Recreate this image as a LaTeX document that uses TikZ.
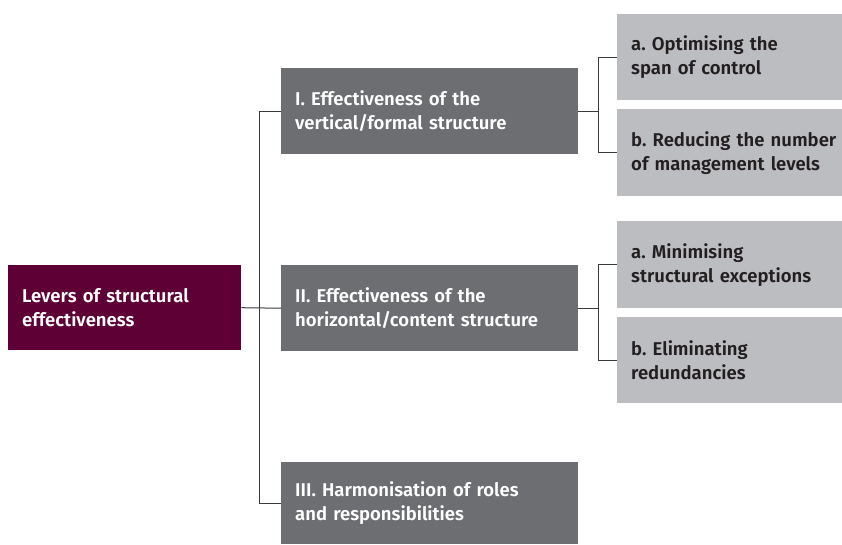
\documentclass[tikz,border=0pt]{standalone}
\usepackage{fontspec}
\setmainfont{Fira Sans}[BoldFont={Fira Sans SemiBold}]
\usetikzlibrary{calc}
\definecolor{plum}{HTML}{5E0035}
\definecolor{slate}{HTML}{6D6E71}
\definecolor{mist}{HTML}{BCBDC0}
\definecolor{ink}{HTML}{231F20}
\definecolor{wire}{HTML}{3A3A3A}
\tikzset{
  block/.style={anchor=north west, rectangle, inner xsep=14pt, inner ysep=0pt,
    align=left, font=\fontsize{18.5}{24}\selectfont\bfseries\frenchspacing},
  rootbox/.style={block, fill=plum, text=white, minimum width=233pt, minimum height=85pt, text width=205pt},
  levbox/.style={block, fill=slate, text=white, minimum width=297pt, minimum height=86pt, text width=269pt},
  subbox/.style={block, fill=mist, text=ink, minimum width=225pt, minimum height=86pt, text width=215pt},
  link/.style={draw=wire, line width=1pt}
}
\begin{document}
\begin{tikzpicture}[x=1pt,y=-1pt]
\useasboundingbox (0,0) rectangle (842,544);

% root and main levers
\node[rootbox] (root) at (8,265) {Levers of structural\\effectiveness};
\node[levbox] (l1) at (281,68) {I. Effectiveness of the\\vertical/formal structure};
\node[levbox] (l2) at (281,265) {II. Effectiveness of the\\horizontal/content structure};
\node[levbox, minimum height=82pt] (l3) at (281,462) {III. Harmonisation of roles\\and responsibilities};

% sub-levers
\node[subbox] (l1a) at (617,14) {a. Optimising the\\span of control};
\node[subbox, minimum height=87pt] (l1b) at (617,109) {b. Reducing the number\\of management levels};
\node[subbox, minimum height=87pt] (l2a) at (617,221) {a. Minimising\\structural exceptions};
\node[subbox] (l2b) at (617,317) {b. Eliminating\\redundancies};

% trunk from the root
\coordinate (trunk) at (259,0);
\draw[link] (root.east) -- (l2.west);
\draw[link] (l1.west) -- (l1.west -| trunk) -- (l3.west -| trunk) -- (l3.west);

% forks to the sub-levers
\coordinate (fork) at (598,0);
\draw[link] (l1.east) -- (l1.east -| fork);
\draw[link] (l1a.west) -- (l1a.west -| fork) -- (l1b.west -| fork) -- (l1b.west);
\draw[link] (l2.east) -- (l2.east -| fork);
\draw[link] (l2a.west) -- (l2a.west -| fork) -- (l2b.west -| fork) -- (l2b.west);
\end{tikzpicture}
\end{document}
